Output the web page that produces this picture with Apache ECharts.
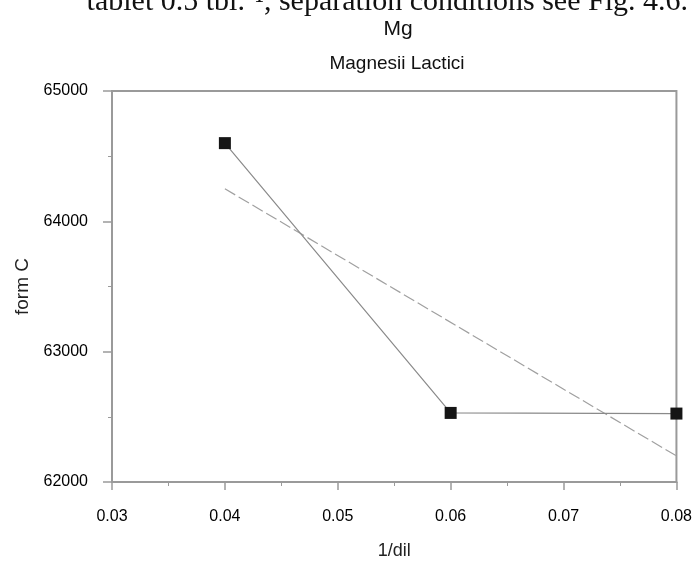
<!DOCTYPE html>
<html>
<head>
<meta charset="utf-8">
<script src="https://cdn.jsdelivr.net/npm/echarts@6/dist/echarts.min.js"></script>
<style>
html,body{margin:0;padding:0;background:#fff;}
#chart{width:695px;height:565px;}
</style>
</head>
<body>
<div id="chart"></div>
<script>
// Data
const xValues = [0.04, 0.06, 0.08];
const yValues = [64600, 62530, 62525];
const trendX = [0.04, 0.08];
const trendY = [64250, 62200];
const xTicks = { min: 0.03, max: 0.08, interval: 0.01 };
const yTicks = { min: 62000, max: 65000, interval: 1000 };
const headerText = "tablet 0.5 tbl.\u207B\u00B9, separation conditions see Fig. 4.6.";
const elementTitle = "Mg";
const chartTitle = "Magnesii Lactici";
const xName = "1/dil";
const yName = "form C";

const chart = echarts.init(document.getElementById('chart'), null, {renderer: 'canvas'});
const sans = 'Liberation Sans, Arial, sans-serif';
const axisGrey = '#9a9a9a';

const option = {
  backgroundColor: '#fff',
  animation: false,
  title: [
    { text: headerText, right: 2, top: -18,
      textStyle: { fontFamily: 'Liberation Serif, Times New Roman, serif', fontSize: 30, fontWeight: 'normal', color: '#111' } },
    { text: elementTitle, left: 393, textAlign: 'center', top: 14,
      textStyle: { fontFamily: sans, fontSize: 21, fontWeight: 'normal', color: '#111' } },
    { text: chartTitle, left: 392, textAlign: 'center', top: 49,
      textStyle: { fontFamily: sans, fontSize: 19, fontWeight: 'normal', color: '#111' } }
  ],
  grid: { left: 112, right: 18, top: 91, bottom: 78, show: true, borderColor: axisGrey, borderWidth: 2, backgroundColor: 'transparent' },
  xAxis: {
    type: 'value', min: xTicks.min, max: xTicks.max, interval: xTicks.interval,
    name: xName, nameLocation: 'middle', nameGap: 60,
    nameTextStyle: { fontFamily: sans, fontSize: 18, color: '#222' },
    axisLine: { lineStyle: { color: axisGrey, width: 2 } },
    axisTick: { show: true, length: 8, lineStyle: { color: axisGrey, width: 1.5 } },
    minorTick: { show: true, splitNumber: 2, length: 4, lineStyle: { color: axisGrey } },
    splitLine: { show: false },
    axisLabel: { fontFamily: sans, fontSize: 16, color: '#000', margin: 27,
      formatter: v => v.toFixed(2) }
  },
  yAxis: {
    type: 'value', min: yTicks.min, max: yTicks.max, interval: yTicks.interval,
    name: yName, nameLocation: 'middle', nameGap: 80, nameRotate: 90,
    nameTextStyle: { fontFamily: sans, fontSize: 19, color: '#222' },
    axisLine: { show: true, lineStyle: { color: axisGrey, width: 2 } },
    axisTick: { show: true, length: 9, lineStyle: { color: axisGrey, width: 1.5 } },
    minorTick: { show: true, splitNumber: 2, length: 4, lineStyle: { color: axisGrey } },
    splitLine: { show: false },
    axisLabel: { fontFamily: sans, fontSize: 16, color: '#000', margin: 24,
      formatter: v => String(v) }
  },
  series: [
    {
      type: 'line', name: 'data',
      data: xValues.map((x, i) => [x, yValues[i]]),
      symbol: 'rect', symbolSize: 12,
      itemStyle: { color: '#151515' },
      lineStyle: { color: '#8a8a8a', width: 1.2 },
      z: 3
    },
    {
      type: 'line', name: 'trend',
      data: trendX.map((x, i) => [x, trendY[i]]),
      showSymbol: false, symbol: 'none',
      lineStyle: { color: '#a0a0a0', width: 1.2, type: [12, 4] },
      z: 2
    }
  ]
};
chart.setOption(option);
</script>
</body>
</html>
